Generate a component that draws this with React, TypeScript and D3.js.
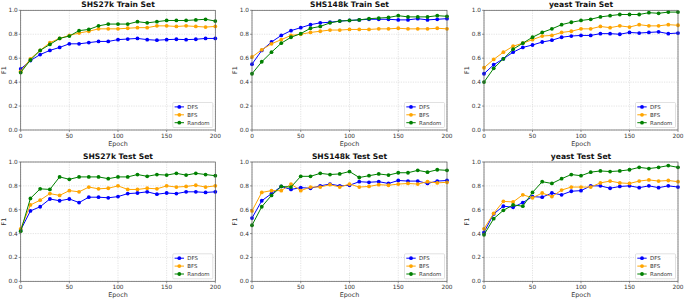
import React from 'react';
import * as d3 from 'd3';

const epochs = [0, 10, 20, 30, 40, 50, 60, 70, 80, 90, 100, 110, 120, 130, 140, 150, 160, 170, 180, 190, 200];
const xTicks = [0, 50, 100, 150, 200];
const yTicks = [0, 0.2, 0.4, 0.6, 0.8, 1.0];
const methods = ["DFS", "BFS", "Random"];
const colors = ["#0000ff", "#ffa500", "#008000"];

const shs27kTrainDfs = [0.51, 0.58, 0.63, 0.665, 0.69, 0.72, 0.72, 0.73, 0.74, 0.74, 0.755, 0.76, 0.765, 0.755, 0.75, 0.755, 0.758, 0.755, 0.758, 0.765, 0.765];
const shs27kTrainBfs = [0.49, 0.595, 0.665, 0.73, 0.765, 0.79, 0.81, 0.825, 0.845, 0.845, 0.845, 0.85, 0.855, 0.855, 0.87, 0.87, 0.865, 0.87, 0.865, 0.86, 0.865];
const shs27kTrainRandom = [0.48, 0.585, 0.665, 0.715, 0.765, 0.785, 0.83, 0.84, 0.87, 0.885, 0.885, 0.885, 0.905, 0.895, 0.905, 0.915, 0.915, 0.915, 0.92, 0.925, 0.91];

const shs148kTrainDfs = [0.55, 0.665, 0.735, 0.79, 0.83, 0.855, 0.88, 0.895, 0.9, 0.91, 0.915, 0.92, 0.925, 0.925, 0.925, 0.92, 0.92, 0.93, 0.92, 0.925, 0.93];
const shs148kTrainBfs = [0.61, 0.67, 0.72, 0.755, 0.79, 0.8, 0.815, 0.825, 0.835, 0.835, 0.84, 0.84, 0.84, 0.845, 0.845, 0.85, 0.845, 0.845, 0.845, 0.85, 0.845];
const shs148kTrainRandom = [0.47, 0.57, 0.65, 0.725, 0.775, 0.805, 0.85, 0.865, 0.895, 0.91, 0.915, 0.92, 0.93, 0.935, 0.94, 0.955, 0.945, 0.945, 0.945, 0.955, 0.95];

const yeastTrainDfs = [0.47, 0.545, 0.595, 0.65, 0.69, 0.71, 0.735, 0.75, 0.775, 0.785, 0.79, 0.79, 0.805, 0.805, 0.8, 0.815, 0.81, 0.815, 0.82, 0.805, 0.81];
const yeastTrainBfs = [0.52, 0.59, 0.65, 0.7, 0.725, 0.755, 0.785, 0.79, 0.815, 0.825, 0.845, 0.845, 0.865, 0.855, 0.87, 0.86, 0.88, 0.87, 0.87, 0.88, 0.875];
const yeastTrainRandom = [0.4, 0.515, 0.595, 0.675, 0.725, 0.775, 0.815, 0.845, 0.88, 0.9, 0.915, 0.925, 0.945, 0.955, 0.965, 0.965, 0.965, 0.98, 0.975, 0.985, 0.985];

const shs27kTestDfs = [0.43, 0.59, 0.625, 0.69, 0.675, 0.69, 0.66, 0.705, 0.705, 0.7, 0.71, 0.735, 0.74, 0.75, 0.73, 0.74, 0.735, 0.75, 0.75, 0.745, 0.75];
const shs27kTestBfs = [0.44, 0.64, 0.68, 0.735, 0.72, 0.76, 0.75, 0.79, 0.775, 0.78, 0.8, 0.77, 0.77, 0.78, 0.775, 0.8, 0.79, 0.795, 0.805, 0.79, 0.8];
const shs27kTestRandom = [0.42, 0.695, 0.775, 0.77, 0.875, 0.855, 0.875, 0.875, 0.875, 0.86, 0.875, 0.875, 0.895, 0.88, 0.895, 0.89, 0.905, 0.89, 0.905, 0.895, 0.885];

const shs148kTestDfs = [0.53, 0.675, 0.735, 0.795, 0.77, 0.785, 0.78, 0.8, 0.815, 0.8, 0.805, 0.835, 0.83, 0.835, 0.82, 0.845, 0.84, 0.84, 0.82, 0.84, 0.845];
const shs148kTestBfs = [0.59, 0.745, 0.76, 0.76, 0.815, 0.76, 0.79, 0.79, 0.81, 0.79, 0.815, 0.79, 0.795, 0.81, 0.805, 0.815, 0.82, 0.815, 0.835, 0.825, 0.83];
const shs148kTestRandom = [0.47, 0.625, 0.72, 0.795, 0.79, 0.88, 0.88, 0.905, 0.895, 0.9, 0.92, 0.87, 0.885, 0.9, 0.89, 0.91, 0.91, 0.93, 0.915, 0.935, 0.93];

const yeastTestDfs = [0.41, 0.565, 0.63, 0.62, 0.66, 0.71, 0.705, 0.74, 0.725, 0.755, 0.76, 0.8, 0.8, 0.78, 0.795, 0.8, 0.785, 0.8, 0.785, 0.8, 0.79];
const yeastTestBfs = [0.44, 0.57, 0.67, 0.665, 0.725, 0.7, 0.74, 0.71, 0.765, 0.79, 0.79, 0.79, 0.825, 0.84, 0.825, 0.82, 0.84, 0.85, 0.84, 0.845, 0.835];
const yeastTestRandom = [0.39, 0.525, 0.595, 0.64, 0.63, 0.745, 0.835, 0.82, 0.86, 0.895, 0.885, 0.915, 0.925, 0.92, 0.925, 0.935, 0.955, 0.945, 0.955, 0.97, 0.955];

const panels = [
  { title: "SHS27k Train Set", series: [shs27kTrainDfs, shs27kTrainBfs, shs27kTrainRandom], box: [20.7, 215.3, 10.3, 130] },
  { title: "SHS148k Train Set", series: [shs148kTrainDfs, shs148kTrainBfs, shs148kTrainRandom], box: [252, 447, 10.3, 130] },
  { title: "yeast Train Set", series: [yeastTrainDfs, yeastTrainBfs, yeastTrainRandom], box: [484, 678, 10.3, 130] },
  { title: "SHS27k Test Set", series: [shs27kTestDfs, shs27kTestBfs, shs27kTestRandom], box: [20.7, 215.3, 162, 281.3] },
  { title: "SHS148k Test Set", series: [shs148kTestDfs, shs148kTestBfs, shs148kTestRandom], box: [252, 447, 162, 281.3] },
  { title: "yeast Test Set", series: [yeastTestDfs, yeastTestBfs, yeastTestRandom], box: [484, 678, 162, 281.3] },
];

const font = "DejaVu Sans, sans-serif";

function Panel({ title, series, box }) {
  const [x0, x1, y0, y1] = box;
  const x = d3.scaleLinear().domain([0, 200]).range([x0, x1]);
  const y = d3.scaleLinear().domain([0, 1]).range([y1, y0]);
  const line = d3.line<number>().x((d, i) => x(epochs[i])).y(d => y(d));
  // legend box sits in the lower right corner
  const lx = x1 - 42.5;
  const ly = y1 - 27.5;

  return (
    <g>
      {xTicks.map(t => (
        <line key={"gx" + t} x1={x(t)} x2={x(t)} y1={y0} y2={y1} stroke="#d0d0d0" strokeWidth={0.6} strokeDasharray="1.2,1.2" />
      ))}
      {yTicks.map(t => (
        <line key={"gy" + t} x1={x0} x2={x1} y1={y(t)} y2={y(t)} stroke="#d0d0d0" strokeWidth={0.6} strokeDasharray="1.2,1.2" />
      ))}
      {series.map((s, k) => (
        <g key={k}>
          <path d={line(s)} fill="none" stroke={colors[k]} strokeWidth={1} />
          {s.map((v, i) => (
            <circle key={i} cx={x(epochs[i])} cy={y(v)} r={1.9} fill={colors[k]} />
          ))}
        </g>
      ))}
      <rect x={x0} y={y0} width={x1 - x0} height={y1 - y0} fill="none" stroke="#555" strokeWidth={0.7} />
      {xTicks.map(t => (
        <g key={"tx" + t}>
          <line x1={x(t)} x2={x(t)} y1={y1} y2={y1 + 2} stroke="#555" strokeWidth={0.6} />
          <text x={x(t)} y={y1 + 7.6} fontSize={5.8} fill="#333" textAnchor="middle" fontFamily={font}>{t}</text>
        </g>
      ))}
      {yTicks.map(t => (
        <g key={"ty" + t}>
          <line x1={x0 - 2} x2={x0} y1={y(t)} y2={y(t)} stroke="#555" strokeWidth={0.6} />
          <text x={x0 - 3} y={y(t) + 2} fontSize={5.8} fill="#333" textAnchor="end" fontFamily={font}>{t.toFixed(1)}</text>
        </g>
      ))}
      <text x={(x0 + x1) / 2} y={y1 + 15.5} fontSize={6.4} fill="#333" textAnchor="middle" fontFamily={font}>Epoch</text>
      <text transform={`translate(${x0 - 14.8},${(y0 + y1) / 2}) rotate(-90)`} fontSize={6.4} fill="#333" textAnchor="middle" fontFamily={font}>F1</text>
      <text x={(x0 + x1) / 2} y={y0 - 3.2} fontSize={7.6} fontWeight="bold" fill="#111" textAnchor="middle" fontFamily={font}>{title}</text>
      <rect x={lx} y={ly} width={40} height={25} rx={1} fill="#fff" fillOpacity={0.85} stroke="#ccc" strokeWidth={0.6} />
      {methods.map((m, k) => (
        <g key={m}>
          <line x1={lx + 1.8} x2={lx + 11.2} y1={ly + 4.4 + k * 7.9} y2={ly + 4.4 + k * 7.9} stroke={colors[k]} strokeWidth={1} />
          <circle cx={lx + 6.5} cy={ly + 4.4 + k * 7.9} r={1.9} fill={colors[k]} />
          <text x={lx + 14.5} y={ly + 6.3 + k * 7.9} fontSize={5.4} fill="#333" fontFamily={font}>{m}</text>
        </g>
      ))}
    </g>
  );
}

export default function App() {
  return (
    <svg width={685} height={300} style={{ position: "absolute", left: 0, top: 0, background: "#fff" }}>
      {panels.map(p => <Panel key={p.title} {...p} />)}
    </svg>
  );
}
